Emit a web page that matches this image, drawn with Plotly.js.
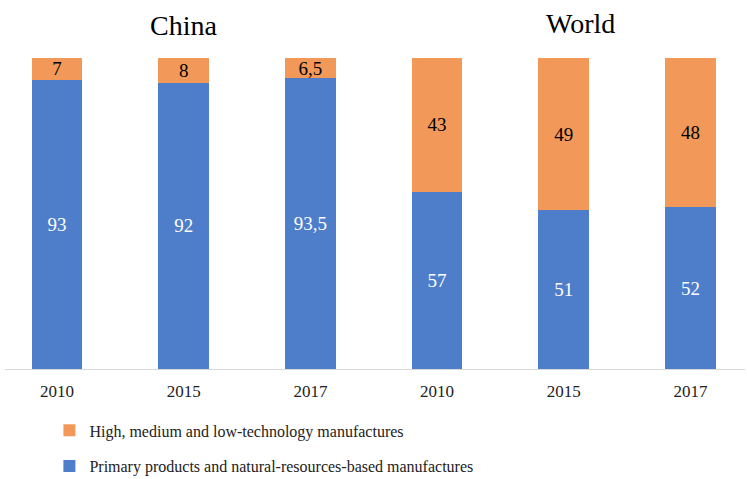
<!DOCTYPE html>
<html><head><meta charset="utf-8">
<script src="https://cdn.plot.ly/plotly-3.0.1.min.js"></script>
<style>html,body{margin:0;padding:0;background:#fff}#chart{width:747px;height:479px}</style>
</head><body><div id="chart"></div>
<script>
const categories = ["2010", "2015", "2017", "2010", "2015", "2017"];
const groups = ["China", "World"];
const primary = [93, 92, 93.5, 57, 51, 52];
const hightech = [7, 8, 6.5, 43, 49, 48];
const seriesNames = ["Primary products and natural-resources-based manufactures", "High, medium and low-technology manufactures"];

const xs = categories.map((c, i) => i);
const fmt = v => String(v).replace('.', ',');
const font = "Liberation Serif";

const traces = [
  {type: 'bar', x: xs, y: primary, name: seriesNames[0], legendgroup: 'b', legendrank: 2,
   marker: {color: '#4E7DC9', line: {width: 0}}, width: 0.4,
   text: primary.map(fmt), textposition: 'inside', insidetextanchor: 'middle', constraintext: 'none', textangle: 0,
   textfont: {family: font, size: 19, color: '#ffffff'}, hoverinfo: 'none'},
  {type: 'bar', x: xs, y: hightech, name: seriesNames[1], legendgroup: 'a', legendrank: 1,
   marker: {color: '#F2995A', line: {width: 0}}, width: 0.4,
   text: hightech.map(fmt), textposition: 'inside', insidetextanchor: 'middle', constraintext: 'none', textangle: 0,
   textfont: {family: font, size: 19, color: '#000000'}, hoverinfo: 'none'}
];

const layout = {
  width: 747, height: 479,
  margin: {l: 5, r: 2, t: 58, b: 110, autoexpand: false},
  paper_bgcolor: '#ffffff', plot_bgcolor: '#ffffff',
  barmode: 'stack',
  font: {family: font, color: '#000'},
  xaxis: {range: [-0.41, 5.43], tickvals: xs, ticktext: categories, showline: true, linecolor: '#d9d9d9', linewidth: 1,
          showgrid: false, zeroline: false, ticks: '', ticklabelstandoff: 7,
          tickfont: {family: font, size: 17, color: '#222'}, fixedrange: true},
  yaxis: {range: [0, 100], visible: false, showgrid: false, zeroline: false, fixedrange: true},
  showlegend: true,
  legend: {orientation: 'v', traceorder: 'grouped', tracegroupgap: 12, x: 0.06, xanchor: 'left',
           yref: 'container', y: 0.137, yanchor: 'top',
           font: {family: font, size: 16, color: '#222'}, bgcolor: 'rgba(0,0,0,0)'},
  annotations: [
    {text: groups[0], xref: 'x', yref: 'paper', x: 1, y: 1, yshift: 33, yanchor: 'middle', showarrow: false, font: {family: font, size: 28, color: '#000'}},
    {text: groups[1], xref: 'x', yref: 'paper', x: 4.13, y: 1, yshift: 35, yanchor: 'middle', showarrow: false, font: {family: font, size: 28, color: '#000'}}
  ]
};
Plotly.newPlot('chart', traces, layout, {displayModeBar: false, staticPlot: true});
</script></body></html>
